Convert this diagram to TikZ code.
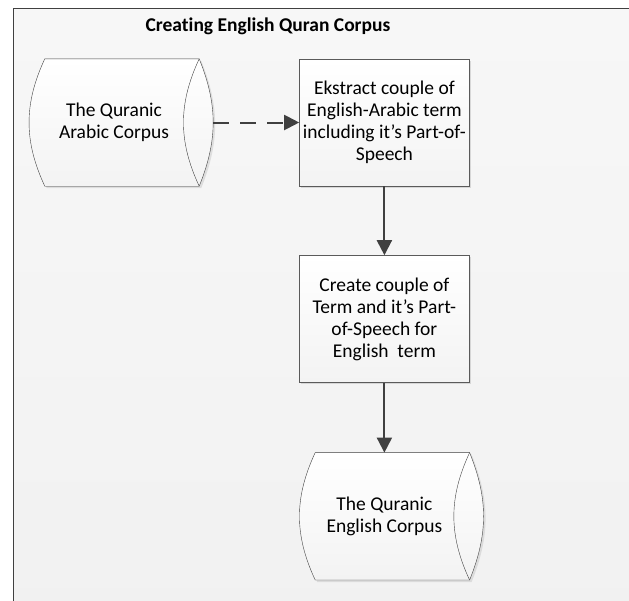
\documentclass[tikz,border=0pt]{standalone}
\usepackage{fontspec}
\setmainfont{Carlito}[Ligatures=NoCommon]
\usetikzlibrary{arrows.meta,positioning,shadows,backgrounds}
\definecolor{ink}{HTML}{404040}
\definecolor{rim}{HTML}{5A5A5A}
\definecolor{paper}{HTML}{F1F1F1}
\definecolor{paperlight}{HTML}{F7F7F7}
\definecolor{boxfill}{HTML}{F3F3F3}

\begin{document}
\begin{tikzpicture}[x=1pt,y=1pt,node distance=69pt and 100pt,>={Triangle[length=15pt,width=15pt]},
 task/.style={draw=rim,top color=white,bottom color=boxfill,minimum width=170pt,minimum height=127pt,align=center,font=\fontsize{19.5}{22}\selectfont,
   drop shadow={shadow xshift=2pt,shadow yshift=-2pt,opacity=0.25,fill=gray}},
 store/.style={minimum width=170pt,minimum height=127pt,align=center,font=\fontsize{19.5}{22}\selectfont},
 flow/.style={->,line width=2pt,color=ink}]
 \useasboundingbox (0,0) rectangle (629,-600);
 \node[font=\bfseries\fontsize{19.5}{22}\selectfont] (title) at (268,-26) {Creating English Quran Corpus};
 \node[store] (arabic) at (114,-122.5) {The Quranic\\Arabic Corpus};
 \node[task,right=of arabic] (extract) {Ekstract couple of\\English-Arabic term\\including it’s Part-of-\\Speech};
 \node[task,below=of extract] (create) {Create couple of\\Term and it’s Part-\\of-Speech for\\English\ \ term};
 \node[store,below=70pt of create] (english) {The Quranic\\English Corpus};
 \begin{scope}[on background layer]
  \path[draw=ink,top color=paperlight,bottom color=paper] (13,-8) rectangle (660,-640);
  \foreach \s in {arabic,english}{
   \path[draw=ink,top color=white,bottom color=boxfill,drop shadow={shadow xshift=2pt,shadow yshift=-2pt,opacity=0.2,fill=gray}]
     ([xshift=16pt]\s.north west) to[bend right=25] ([xshift=16pt]\s.south west)
     -- (\s.south east) to[bend right=22] (\s.north east) -- cycle;
   \draw[ink] (\s.north east) to[bend right=25] (\s.south east);
  }
 \end{scope}
 \draw[flow,dash pattern=on 16pt off 11pt] ([xshift=14pt]arabic.east) -- (extract);
 \draw[flow] (extract) -- (create);
 \draw[flow] (create) -- (english);
\end{tikzpicture}
\end{document}
